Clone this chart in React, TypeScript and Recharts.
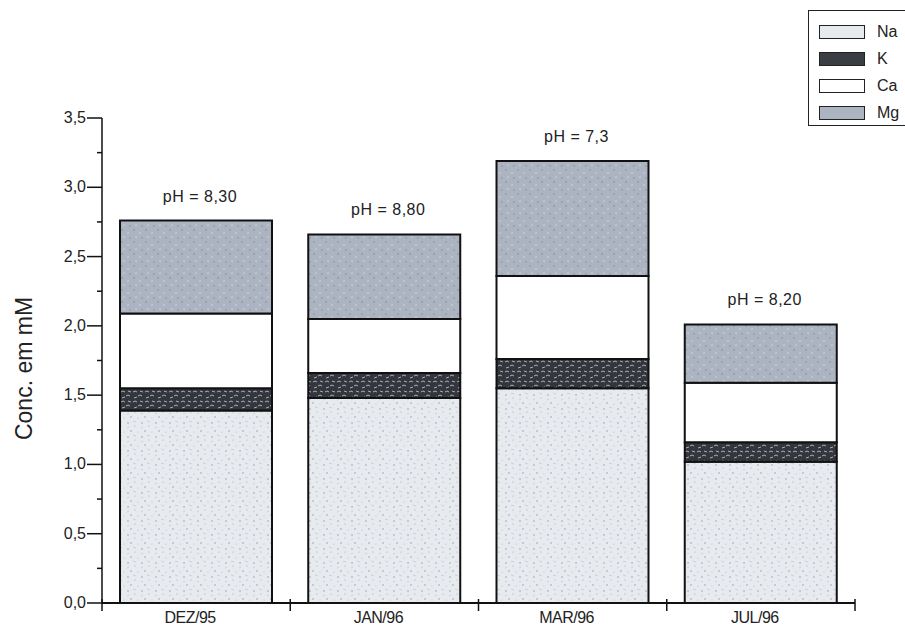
import React from "react";
import { BarChart, Bar, XAxis, YAxis, LabelList } from "recharts";

// valores (mM)
const months = ["DEZ/95", "JAN/96", "MAR/96", "JUL/96"];
const na = [1.39, 1.48, 1.55, 1.02];
const k = [0.16, 0.18, 0.21, 0.14];
const ca = [0.54, 0.39, 0.6, 0.43];
const mg = [0.67, 0.61, 0.83, 0.42];
const phLabels = ["pH = 8,30", "pH = 8,80", "pH = 7,3", "pH = 8,20"];
const yTicks = [0, 0.25, 0.5, 0.75, 1, 1.25, 1.5, 1.75, 2, 2.25, 2.5, 2.75, 3, 3.25, 3.5];

const series = [
  { key: "Na", fill: "url(#patNa)" },
  { key: "K", fill: "url(#patK)" },
  { key: "Ca", fill: "#ffffff" },
  { key: "Mg", fill: "url(#patMg)" },
];

const data = months.map((m, i) => ({
  month: m,
  Na: na[i],
  K: k[i],
  Ca: ca[i],
  Mg: mg[i],
  ph: phLabels[i],
}));

const FONT = "'Liberation Sans', Arial, sans-serif";
const W = 905;
const H = 630;
const margin = { top: 118, right: 50, bottom: 0, left: 0 };
const yAxisWidth = 102;
const band = (W - margin.left - margin.right - yAxisWidth) / months.length;

const YTick = (props: any) => {
  const { x, y, payload } = props;
  const v = payload.value;
  const major = Math.abs(v * 2 - Math.round(v * 2)) < 1e-6;
  return (
    <g>
      <line x1={x - (major ? 15 : 5)} y1={y} x2={x} y2={y} stroke="#111" strokeWidth={1.5} />
      {major && (
        <text x={x - 16} y={y} dy={5} textAnchor="end" fontSize={16} fill="#222" fontFamily={FONT}>
          {v.toFixed(1).replace(".", ",")}
        </text>
      )}
    </g>
  );
};

const XTick = (props: any) => {
  const { x, y, payload, index } = props;
  const last = index === months.length - 1;
  return (
    <g>
      <line x1={x - band / 2} y1={y - 4} x2={x - band / 2} y2={y + 8} stroke="#111" strokeWidth={1.5} />
      {last && (
        <line x1={x + band / 2} y1={y - 4} x2={x + band / 2} y2={y + 8} stroke="#111" strokeWidth={1.5} />
      )}
      <text x={x - 6} y={y + 20} textAnchor="middle" fontSize={16} fill="#222" fontFamily={FONT} letterSpacing={-0.5}>
        {payload.value}
      </text>
    </g>
  );
};

const YLabel = (props: any) => {
  const { viewBox } = props;
  const cx = 24;
  const cy = viewBox.y + viewBox.height / 2 + 8;
  return (
    <text
      x={cx}
      y={cy}
      transform={`rotate(-90 ${cx} ${cy})`}
      textAnchor="middle"
      dominantBaseline="central"
      fontSize={23}
      fill="#222"
      fontFamily={FONT}
    >
      Conc. em mM
    </text>
  );
};

const PhLabel = (props: any) => {
  const { x, y, width, value } = props;
  return (
    <text x={x + width / 2 + 4} y={y - 19} textAnchor="middle" fontSize={16} fill="#222" fontFamily={FONT} letterSpacing={0.5}>
      {value}
    </text>
  );
};

const legendSwatch: Record<string, React.CSSProperties> = {
  Na: { background: "#e6e9ee" },
  K: { background: "#3a3d44" },
  Ca: { background: "#ffffff" },
  Mg: { background: "#adb4c1" },
};

export default function App() {
  return (
    <div style={{ position: "absolute", left: 0, top: 0, width: W, height: H, background: "#fff", overflow: "hidden" }}>
      <BarChart width={W} height={H} data={data} margin={margin} barCategoryGap={0}>
        <defs>
          <pattern id="patNa" patternUnits="userSpaceOnUse" width="14" height="14">
            <rect width="14" height="14" fill="#e7eaee" />
            <circle cx="2" cy="3" r="0.7" fill="#8f959e" />
            <circle cx="9" cy="6" r="0.6" fill="#a4aab2" />
            <circle cx="5" cy="11" r="0.7" fill="#8f959e" />
            <circle cx="12" cy="12" r="0.5" fill="#b3b8bf" />
            <path d="M7 1 l3 1 M1 8 l2 -1" stroke="#c4c9d0" strokeWidth="0.8" />
          </pattern>
          <pattern id="patK" patternUnits="userSpaceOnUse" width="12" height="10">
            <rect width="12" height="10" fill="#33363c" />
            <path d="M1 2 q2 -2 4 0 M6 6 q2 -2 4 0 M2 8 l3 -1 M8 1 l3 1" stroke="#b8bcc3" strokeWidth="0.9" fill="none" />
          </pattern>
          <pattern id="patMg" patternUnits="userSpaceOnUse" width="12" height="12">
            <rect width="12" height="12" fill="#adb4c1" />
            <circle cx="2" cy="2" r="0.8" fill="#858c98" />
            <circle cx="8" cy="5" r="0.8" fill="#d2d7df" />
            <circle cx="4" cy="9" r="0.8" fill="#d2d7df" />
            <circle cx="10" cy="10" r="0.7" fill="#858c98" />
          </pattern>
        </defs>
        <XAxis
          dataKey="month"
          height={27}
          tickLine={false}
          tickSize={0}
          tickMargin={0}
          tick={<XTick />}
          stroke="#111"
          strokeWidth={2}
          interval={0}
        />
        <YAxis
          width={yAxisWidth}
          domain={[0, 3.5]}
          ticks={yTicks}
          interval={0}
          tickLine={false}
          tickSize={0}
          tickMargin={0}
          tick={<YTick />}
          stroke="#111"
          strokeWidth={1.5}
          label={<YLabel />}
        />
        {series.map((s) => (
          <Bar
            key={s.key}
            dataKey={s.key}
            stackId="a"
            fill={s.fill}
            stroke="#111"
            strokeWidth={2}
            barSize={152}
            isAnimationActive={false}
          >
            {s.key === "Mg" && <LabelList dataKey="ph" content={<PhLabel />} />}
          </Bar>
        ))}
      </BarChart>
      <div
        style={{
          position: "absolute",
          left: 808,
          top: 10,
          width: 120,
          height: 116,
          border: "1.5px solid #222",
          boxSizing: "border-box",
          fontFamily: FONT,
          fontSize: 16,
          color: "#222",
        }}
      >
        {series.map((s, i) => (
          <div key={s.key} style={{ position: "absolute", left: 10, top: 12 + i * 27, display: "flex", alignItems: "center" }}>
            <div style={{ width: 46, height: 14, border: "1.5px solid #222", boxSizing: "border-box", ...legendSwatch[s.key] }} />
            <span style={{ marginLeft: 12 }}>{s.key}</span>
          </div>
        ))}
      </div>
    </div>
  );
}
